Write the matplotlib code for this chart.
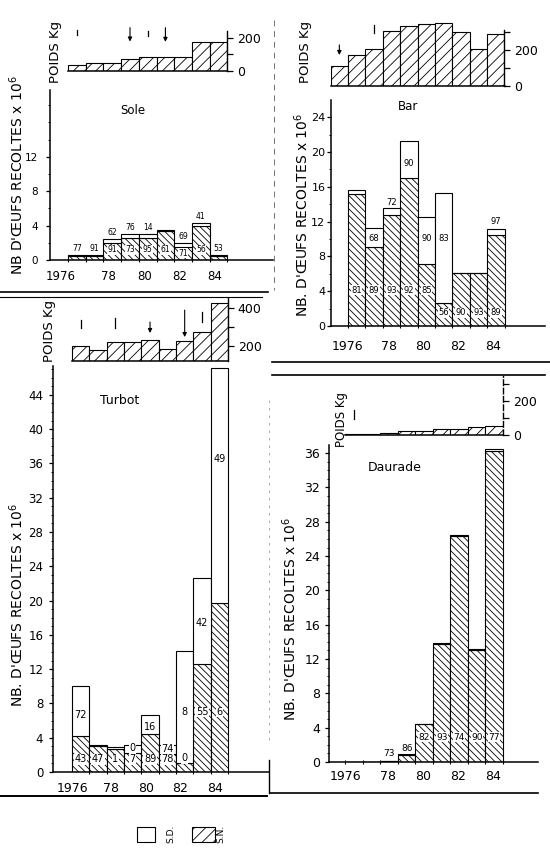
import matplotlib
matplotlib.use("Agg")
import matplotlib.pyplot as plt
from matplotlib.ticker import FixedLocator, MultipleLocator
from matplotlib.patches import Rectangle

plt.rcParams['font.family'] = ['DejaVu Sans']
plt.rcParams['mathtext.fontset'] = 'dejavusans'
plt.rcParams['hatch.linewidth'] = 0.6

# ---------------------------------------------------------------- data
YEARS = [1976, 1977, 1978, 1979, 1980, 1981, 1982, 1983, 1984]
YEAR_TICKS = [1976, 1978, 1980, 1982, 1984]
YEAR_LABELS = ['1976', '78', '80', '82', '84']

# Sole
sole_poids_years = YEARS
sole_poids = [36, 46, 46, 70, 86, 82, 86, 176, 176]
sole_total = [0.6, 0.6, 2.4, 3.0, 3.0, 3.5, 2.0, 4.3, 0.6]
sole_sn = [0.45, 0.5, 2.0, 2.6, 2.6, 3.4, 1.5, 3.9, 0.45]
sole_top_labels = ['77', '91', '62', '76', '14', '', '69', '41', '53']
sole_low_labels = ['', '', '91', '73', '95', '61', '71', '56', '']
sole_arrow_years = [1979, 1981]
sole_tick_years = [1976, 1980]

# Bar
bar_poids_years = [1975] + YEARS
bar_poids = [111, 172, 206, 307, 333, 343, 348, 300, 207, 289]
bar_total = [15.6, 11.3, 13.6, 21.3, 12.5, 15.25, 6.1, 6.1, 11.2]
bar_sn = [15.2, 9.1, 12.75, 17.0, 7.1, 2.7, 6.05, 6.05, 10.5]
bar_top_labels = ['', '68', '72', '90', '90', '83', '', '', '97']
bar_low_labels = ['81', '89', '93', '92', '85', '56', '90', '93', '89']
bar_arrow_years = [1975]
bar_tick_years = [1977]

# Turbot
turbot_poids_years = YEARS
turbot_poids = [200, 179, 219, 219, 231, 183, 226, 271, 426]
turbot_total = [10.0, 3.2, 2.9, 3.2, 6.6, 3.2, 14.1, 22.6, 47.1]
turbot_sn = [4.2, 3.05, 2.65, 2.2, 4.4, 2.1, 1.1, 12.6, 19.7]
turbot_top_labels = ['72', '', '', '0', '16', '74', '8', '42', '49']
turbot_low_labels = ['43', '47', '1', '7', '89', '78', '0', '55', '6']
turbot_arrow_years = [1980, 1982]
turbot_tick_years = [1976, 1978, 1983]

# Daurade
daurade_poids_years = YEARS
daurade_poids = [6, 4, 10, 24, 24, 35, 35, 45, 53]
daurade_total = [0, 0, 0.12, 0.9, 4.45, 13.85, 26.5, 13.2, 36.5]
daurade_sn = [0, 0, 0.1, 0.85, 4.4, 13.8, 26.3, 13.1, 36.2]
daurade_top_labels = ['', '', '73', '86', '', '', '', '', '']
daurade_low_labels = ['', '', '', '', '82', '93', '74', '90', '77']
daurade_arrow_years = []
daurade_tick_years = [1976]

# ---------------------------------------------------------------- layout
W, H = 550, 857
fig = plt.figure(figsize=(W / 100, H / 100), dpi=100)

HATCH_MAIN = '\\' * 5
HATCH_POIDS = '///'


def add_ax(l, t, r, b):
    ax = fig.add_axes([l / W, 1 - b / H, (r - l) / W, (b - t) / H])
    ax.patch.set_visible(False)
    return ax


def draw_main(box, xlim, ylim, total, sn, top_labels, top_y, low_labels, low_y,
              label_fs, major, minor, lab_off, off1976, xpad, ypad, tick_fs, xtick_fs):
    ax = add_ax(*box)
    ax.set_xlim(*xlim)
    ax.set_ylim(*ylim)
    sd = [t - s for t, s in zip(total, sn)]
    ax.bar(YEARS, sn, width=1, align='edge', facecolor='white',
           edgecolor='black', hatch=HATCH_MAIN, lw=0.8, zorder=2)
    ax.bar(YEARS, sd, bottom=sn, width=1, align='edge', facecolor='white',
           edgecolor='black', lw=0.8, zorder=2)
    for labels, ys in ((top_labels, top_y), (low_labels, low_y)):
        for yr, lab, yy in zip(YEARS, labels, ys):
            if lab:
                ax.text(yr + 0.5, yy, lab, ha='center', va='center', fontsize=label_fs,
                        zorder=4, bbox=dict(facecolor='white', edgecolor='none', pad=0.3))
    for s in ('top', 'right'):
        ax.spines[s].set_visible(False)
    ax.spines['left'].set_linewidth(1.1)
    ax.spines['bottom'].set_linewidth(1.1)
    ax.yaxis.set_major_locator(FixedLocator(major))
    ax.set_yticklabels([str(v) for v in major])
    ax.yaxis.set_minor_locator(MultipleLocator(minor))
    ax.tick_params(axis='y', which='major', length=3, width=0.9, pad=ypad, labelsize=tick_fs)
    ax.tick_params(axis='y', which='minor', length=1.6, width=0.7)
    pos = [y + (off1976 if y == 1976 else lab_off) for y in YEAR_TICKS]
    ax.set_xticks(pos)
    ax.set_xticklabels(YEAR_LABELS)
    ax.set_xticks(list(range(1976, 1986)), minor=True)
    ax.tick_params(axis='x', which='major', length=0, pad=xpad, labelsize=xtick_fs)
    ax.tick_params(axis='x', which='minor', length=3, width=0.8, direction='inout')
    return ax


def draw_poids(box, xlim, ylim, pyears, vals, ticks, ticklabels, spine_top,
               arrow_years, arrow_pos, tick_years, tick_pos, fs=9, pad=3,
               dashed=False):
    ax = add_ax(*box)
    ax.set_xlim(*xlim)
    ax.set_ylim(*ylim)
    base = ylim[0]
    ax.bar(pyears, [v - base for v in vals], bottom=base, width=1, align='edge',
           facecolor='white', edgecolor='black', hatch=HATCH_POIDS, lw=0.8)
    for s in ('top', 'left'):
        ax.spines[s].set_visible(False)
    ax.spines['bottom'].set_bounds(pyears[0], 1985)
    ax.spines['right'].set_bounds(base, spine_top)
    ax.spines['bottom'].set_linewidth(1.1)
    ax.spines['right'].set_linewidth(1.0)
    if dashed:
        ax.spines['right'].set_linestyle((0, (4, 2)))
    ax.yaxis.tick_right()
    ax.set_yticks(ticks)
    ax.set_yticklabels(ticklabels)
    ax.tick_params(axis='y', length=4, width=0.9, pad=pad, labelsize=fs)
    ax.set_xticks([])
    for yr in arrow_years:
        top, bot = arrow_pos[yr]
        ax.annotate('', xy=(yr + 0.5, bot), xytext=(yr + 0.5, top),
                    arrowprops=dict(arrowstyle='-|>', lw=0.8, color='black',
                                    mutation_scale=6, shrinkA=0, shrinkB=0),
                    annotation_clip=False)
    for yr in tick_years:
        top, bot = tick_pos[yr]
        ax.plot([yr + 0.5, yr + 0.5], [top, bot], color='black', lw=0.9,
                clip_on=False)
    return ax


# ---- Sole
draw_poids((50, 26, 227, 71), (1974.98, 1984.98), (0, 272), sole_poids_years, sole_poids,
           [0, 100, 200], ['0', '', '200'], 240,
           sole_arrow_years, {1979: (262, 178), 1981: (262, 176)},
           sole_tick_years, {1976: (248, 220), 1980: (240, 214)})
draw_main((50, 90, 273, 260), (1974.98, 1987.58), (0, 19.77),
          sole_total, sole_sn,
          sole_top_labels, [t + 0.75 for t in sole_total],
          sole_low_labels, [1.2, 1.2, 1.2, 1.2, 1.2, 1.2, 0.8, 1.2, 1.2],
          5.5, [0, 4, 8, 12], 2, 0.3, -0.4, 7, 5.5, 7.5, 8.5)

# ---- Bar
draw_poids((331, 10, 504, 86), (1975.02, 1984.97), (0, 422), bar_poids_years, bar_poids,
           [0, 100, 200, 300], ['0', '', '200', ''], 310,
           bar_arrow_years, {1975: (228, 172)},
           bar_tick_years, {1977: (339, 294)})
draw_main((331, 100, 545, 326), (1975.02, 1987.32), (0, 25.98),
          bar_total, bar_sn,
          bar_top_labels, [0, 10.1, 14.2, 18.7, 10.1, 10.1, 0, 0, 12.0],
          bar_low_labels, [4.1] * 5 + [1.5] * 4,
          6, list(range(0, 25, 4)), 2, 0.34, -0.06, 10, 1.0, 8, 9)

# ---- Turbot
draw_poids((53, 296, 228, 361), (1974.9, 1985.0), (121, 463), turbot_poids_years, turbot_poids,
           [200, 300, 400], ['200', '', '400'], 455,
           turbot_arrow_years, {1980: (326, 268), 1982: (389, 247)},
           turbot_tick_years, {1976: (337, 295), 1978: (347, 295), 1983: (379, 326)})
draw_main((53, 366, 269, 772), (1974.9, 1987.37), (0, 47.37),
          turbot_total, turbot_sn,
          turbot_top_labels, [6.6, 0, 0, 2.75, 5.3, 2.65, 7.0, 17.4, 36.5],
          turbot_low_labels, [1.5] * 6 + [1.6, 7.0, 7.0],
          7, list(range(0, 45, 4)), 1, 0.25, 0.0, 7, 4, 8.5, 9)

# ---- Daurade
draw_poids((329, 375, 503, 435), (1975.06, 1985.0), (0, 353), daurade_poids_years, daurade_poids,
           [0, 100, 200, 300], ['0', '', '200', ''], 345,
           daurade_arrow_years, {},
           daurade_tick_years, {1976: (147, 94)}, dashed=True)
draw_main((329, 445, 538, 762), (1975.06, 1987.0), (0, 36.95),
          daurade_total, daurade_sn,
          daurade_top_labels, [0, 0, 0.96, 1.55, 0, 0, 0, 0, 0],
          daurade_low_labels, [2.9] * 9,
          6.5, list(range(0, 37, 4)), 1, 0.45, 0.03, 6, 3.5, 9, 9)

# ---------------------------------------------------------------- overlay
ov = fig.add_axes([0, 0, 1, 1])
ov.set_xlim(0, W)
ov.set_ylim(H, 0)
ov.axis('off')
ov.patch.set_visible(False)

NB = "NB. D'ŒUFS RECOLTES x 10$^6$"
ov.text(17, 175, "NB D'ŒUFS RECOLTES x 10$^6$", rotation=90, ha='center', va='center', fontsize=10)
ov.text(56, 52, 'POIDS Kg', rotation=90, ha='center', va='center', fontsize=9.5)
ov.text(133, 110, 'Sole', ha='center', va='center', fontsize=8.5)

ov.text(302, 215, NB, rotation=90, ha='center', va='center', fontsize=10)
ov.text(306, 52, 'POIDS Kg', rotation=90, ha='center', va='center', fontsize=9.5)
ov.text(408, 106, 'Bar', ha='center', va='center', fontsize=8.5)

ov.text(17, 605, NB, rotation=90, ha='center', va='center', fontsize=10)
ov.text(49, 331, 'POIDS Kg', rotation=90, ha='center', va='center', fontsize=9.5)
ov.text(120, 400, 'Turbot', ha='center', va='center', fontsize=9)

ov.text(290, 619, NB, rotation=90, ha='center', va='center', fontsize=10)
ov.text(341, 419, 'POIDS Kg', rotation=90, ha='center', va='center', fontsize=8.5)
ov.text(395, 467, 'Daurade', ha='center', va='center', fontsize=9)

# separators / frame lines
line_kw = dict(color='black', lw=1.2)
ov.plot([0, 268], [292, 292], **line_kw)
ov.plot([0, 262], [297, 297], color='black', lw=0.8)
ov.plot([272, 550], [362, 362], **line_kw)
ov.plot([272, 545], [375, 375], **line_kw)
ov.plot([0, 267], [796, 796], color='black', lw=1.4)
ov.plot([269, 269], [760, 793], color='black', lw=1.0)
ov.plot([270, 538], [793, 793], color='black', lw=1.2)
ov.plot([274, 274], [20, 290], color='0.45', lw=0.7, ls=(0, (6, 5)))
ov.plot([269, 269], [400, 740], color='0.6', lw=0.6, ls=(0, (3, 6)))

# legend
ov.add_patch(Rectangle((137, 827), 18, 15, facecolor='white', edgecolor='black', lw=0.8))
ov.add_patch(Rectangle((192, 827), 23, 15, facecolor='white', edgecolor='black', lw=0.8,
                       hatch=HATCH_POIDS))
ov.text(171, 834, 'S.D.', rotation=90, ha='center', va='center', fontsize=6.5)
ov.text(221, 834, 'S.N.', rotation=90, ha='center', va='center', fontsize=6.5)

fig.savefig('out.png', dpi=100)
